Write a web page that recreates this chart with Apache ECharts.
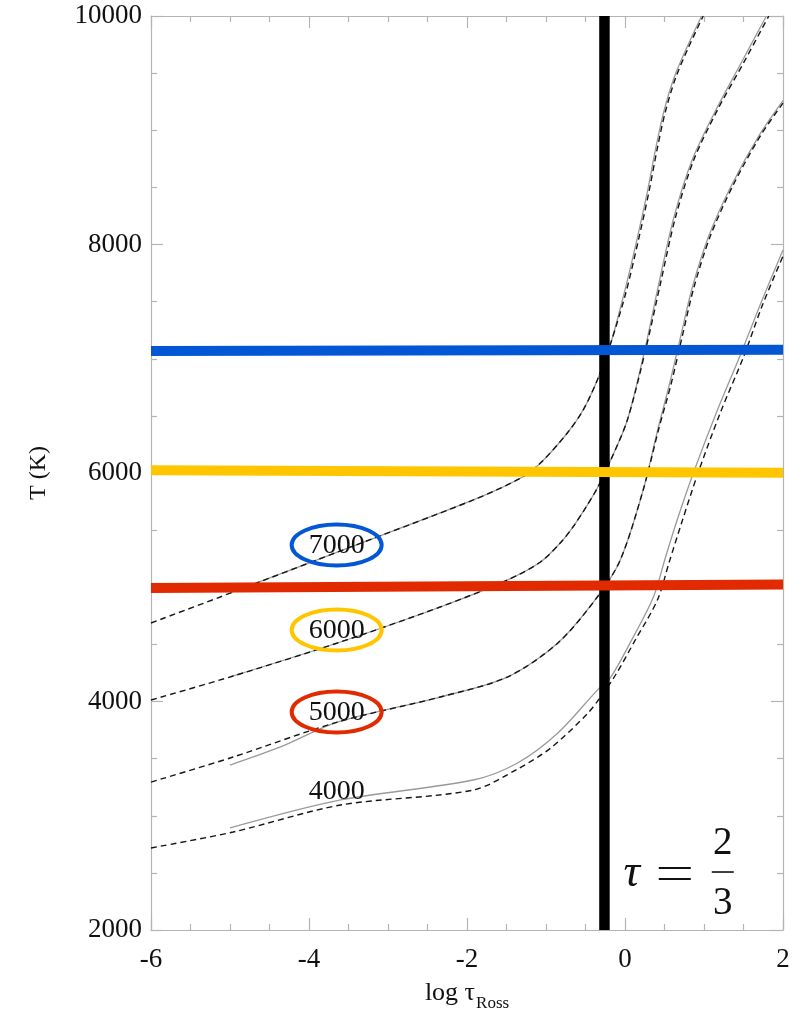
<!DOCTYPE html>
<html>
<head>
<meta charset="utf-8">
<script src="https://cdn.jsdelivr.net/npm/echarts@6/dist/echarts.min.js"></script>
<style>
html, body { margin: 0; padding: 0; background: #fff; }
#chart { width: 808px; height: 1009px; }
</style>
</head>
<body>
<div id="chart"></div>
<script>
// Temperature structure of model atmospheres: T (K) against log Rosseland optical depth.
const modelTeff = ['4000', '5000', '6000', '7000'];

// Solid grey curves: [log tau, T]
const model4000 = [[-5, 2893], [-3.6, 3138], [-1.92, 3313], [-1.36, 3462], [-0.85, 3724], [-0.35, 4100], [-0.18, 4214], [0.07, 4520], [0.36, 4915], [0.51, 5256], [0.66, 5588], [0.87, 6009], [1.17, 6551], [1.46, 7033], [1.72, 7488], [2.0, 7952]];
const model5000 = [[-5, 3444], [-4.36, 3602], [-3.64, 3820], [-2.34, 4039], [-1.49, 4214], [-0.85, 4512], [-0.35, 4915], [-0.06, 5238], [0.23, 5851], [0.42, 6394], [0.56, 6770], [0.7, 7182], [0.85, 7619], [1.06, 8074], [1.35, 8521], [1.7, 8958], [2.0, 9260]];
const model6000 = [[-5, 4215], [-3.64, 4512], [-2.34, 4827], [-1.49, 5063], [-1.07, 5221], [-0.82, 5387], [-0.65, 5536], [-0.5, 5694], [-0.35, 5869], [-0.18, 6114], [0.03, 6464], [0.25, 7076], [0.43, 7663], [0.62, 8241], [0.85, 8740], [1.15, 9177], [1.47, 9589], [1.79, 10000]];
const model7000 = [[-5, 4950], [-3.64, 5308], [-1.92, 5764], [-1.32, 5956], [-1.07, 6087], [-0.73, 6350], [-0.53, 6551], [-0.35, 6814], [-0.18, 7138], [-0.01, 7575], [0.15, 8039], [0.28, 8451], [0.39, 8845], [0.49, 9160], [0.62, 9457], [0.78, 9720], [0.97, 10000]];

// Dashed black curves: [log tau, T]
const ref4000 = [[-6, 2718], [-4.96, 2858], [-3.6, 3094], [-1.92, 3225], [-1.36, 3409], [-0.94, 3593], [-0.48, 3890], [-0.31, 4039], [-0.12, 4232], [0.13, 4538], [0.41, 4888], [0.56, 5221], [0.72, 5571], [0.92, 5991], [1.21, 6534], [1.5, 7015], [1.74, 7470], [2.0, 7899]];
const ref5000 = [[-6, 3295], [-4.96, 3514], [-3.64, 3820], [-2.34, 4039], [-1.49, 4214], [-0.85, 4512], [-0.35, 4915], [-0.06, 5238], [0.23, 5851], [0.43, 6394], [0.58, 6770], [0.72, 7182], [0.87, 7619], [1.08, 8074], [1.37, 8521], [1.72, 8958], [2.0, 9238]];
const ref6000 = [[-6, 4013], [-4.96, 4223], [-3.64, 4512], [-2.34, 4827], [-1.49, 5063], [-1.07, 5221], [-0.82, 5387], [-0.65, 5536], [-0.5, 5694], [-0.35, 5869], [-0.18, 6114], [0.03, 6464], [0.26, 7076], [0.45, 7663], [0.64, 8241], [0.87, 8740], [1.17, 9177], [1.5, 9589], [1.82, 10000]];
const ref7000 = [[-6, 4687], [-4.96, 4958], [-3.64, 5308], [-1.92, 5764], [-1.32, 5956], [-1.07, 6087], [-0.73, 6350], [-0.53, 6551], [-0.35, 6814], [-0.18, 7138], [0.01, 7575], [0.17, 8039], [0.3, 8451], [0.41, 8845], [0.51, 9160], [0.64, 9457], [0.8, 9720], [0.99, 10000]];

// Horizontal temperature levels, [left end, right end]
const levelBlue = [[-6, 7068], [2, 7078]];
const levelYellow = [[-6, 6025], [2, 6002]];
const levelRed = [[-6, 4993], [2, 5025]];

// Vertical marker at tau = 2/3
const tauMarkX = -0.26;
const tauMark = [[tauMarkX, 2000], [tauMarkX, 10000]];

// Curve labels: position [log tau, T], ring colour (none for the 4000 K curve)
const labelAt = [[-3.65, 3216], [-3.65, 3908], [-3.65, 4626], [-3.65, 5370]];
const ringColor = [null, '#e22a00', '#ffc600', '#0457d4'];

// Anchor of the tau = 2/3 caption, [log tau, T]
const tauCaptionAt = [[0.63, 2525]];

const SERIF = '"Liberation Serif", "Times New Roman", serif';
const AXIS_GREY = '#b4b4b4';

const chart = echarts.init(document.getElementById('chart'), null, { renderer: 'canvas' });

function frameAxis(extra) {
  return Object.assign({
    type: 'value',
    axisLine: { show: true, onZero: false, lineStyle: { color: AXIS_GREY, width: 1.2 } },
    axisTick: { show: true, inside: true, length: 12, lineStyle: { color: AXIS_GREY, width: 1.2 } },
    minorTick: { show: true, splitNumber: 4, length: 6, lineStyle: { color: AXIS_GREY, width: 1.2 } },
    splitLine: { show: false },
    minorSplitLine: { show: false }
  }, extra);
}

function solid(data) {
  return {
    type: 'line', data: data, symbol: 'none', smooth: 0.3,
    lineStyle: { color: '#9a9a9a', width: 1.3 }, z: 2, silent: true
  };
}
function dashed(data) {
  return {
    type: 'line', data: data, symbol: 'none', smooth: 0.3,
    lineStyle: { color: '#151515', width: 1.4, type: [6, 4] }, z: 3, silent: true
  };
}
function level(data, color) {
  return {
    type: 'line', data: data, symbol: 'none',
    lineStyle: { color: color, width: 10, cap: 'butt' }, z: 6, silent: true
  };
}

const option = {
  animation: false,
  backgroundColor: '#ffffff',
  grid: { left: 151, right: 25, top: 16, bottom: 79, containLabel: false, outerBoundsMode: 'none' },
  xAxis: [
    frameAxis({
      position: 'bottom', min: -6, max: 2, interval: 2,
      axisLabel: { show: true, margin: 16, fontSize: 27, fontFamily: SERIF, color: '#111' },
      name: '{a|log τ}{s|Ross}', nameLocation: 'middle', nameGap: 46,
      nameTextStyle: {
        rich: {
          a: { fontSize: 26, fontFamily: SERIF, color: '#111', verticalAlign: 'bottom', lineHeight: 30 },
          s: { fontSize: 17, fontFamily: SERIF, color: '#111', verticalAlign: 'bottom', lineHeight: 30, padding: [0, 0, -6, 1] }
        }
      }
    }),
    frameAxis({ position: 'top', min: -6, max: 2, interval: 2, axisLabel: { show: false } })
  ],
  yAxis: [
    frameAxis({
      position: 'left', min: 2000, max: 10000, interval: 2000,
      axisLabel: { show: true, margin: 9, fontSize: 27, fontFamily: SERIF, color: '#111', formatter: (v) => String(v) },
      name: 'T (K)', nameLocation: 'middle', nameGap: 100,
      nameTextStyle: { fontSize: 24, fontFamily: SERIF, color: '#111' }
    }),
    frameAxis({ position: 'right', min: 2000, max: 10000, interval: 2000, axisLabel: { show: false } })
  ],
  series: [
    solid(model4000), solid(model5000), solid(model6000), solid(model7000),
    dashed(ref4000), dashed(ref5000), dashed(ref6000), dashed(ref7000),
    {
      type: 'line', data: tauMark, symbol: 'none',
      lineStyle: { color: '#000', width: 10.5, cap: 'butt' }, z: 5, silent: true
    },
    level(levelBlue, '#0457d4'),
    level(levelYellow, '#ffc600'),
    level(levelRed, '#e22a00'),
    {
      // curve labels with coloured rings
      type: 'custom', data: labelAt, z: 8, silent: true,
      renderItem: function (params, api) {
        const p = api.coord([api.value(0), api.value(1)]);
        const i = params.dataIndex;
        const children = [];
        if (ringColor[i]) {
          children.push({
            type: 'ellipse',
            shape: { cx: p[0], cy: p[1], rx: 45, ry: 20.5 },
            style: { fill: 'none', stroke: ringColor[i], lineWidth: 4 }
          });
        }
        children.push({
          type: 'text', x: p[0], y: p[1] + 1,
          style: { text: modelTeff[i], fontSize: 28, fontFamily: SERIF, fill: '#111', align: 'center', verticalAlign: 'middle' }
        });
        return { type: 'group', children: children };
      }
    },
    {
      // caption: tau = 2/3
      type: 'custom', data: tauCaptionAt, z: 9, silent: true, clip: false,
      renderItem: function (params, api) {
        const p = api.coord([api.value(0), api.value(1)]);
        const txt = (s, dx, dy, extra) => ({
          type: 'text', x: p[0] + dx, y: p[1] + dy,
          style: Object.assign({ text: s, fontSize: 39, fontFamily: SERIF, fill: '#111', align: 'center', verticalAlign: 'middle' }, extra || {})
        });
        const bar = (x1, x2, dy, w) => ({
          type: 'line',
          shape: { x1: p[0] + x1, y1: p[1] + dy, x2: p[0] + x2, y2: p[1] + dy },
          style: { stroke: '#111', lineWidth: w }
        });
        return {
          type: 'group',
          children: [
            txt('τ', -43, 4, { fontStyle: 'italic', fontSize: 46 }),
            bar(-16, 16, -2, 2),
            bar(-16, 16, 9, 2),
            txt('2', 48, -26),
            bar(37, 59, 2, 1.6),
            txt('3', 48, 34)
          ]
        };
      }
    }
  ]
};

chart.setOption(option);
</script>
</body>
</html>
